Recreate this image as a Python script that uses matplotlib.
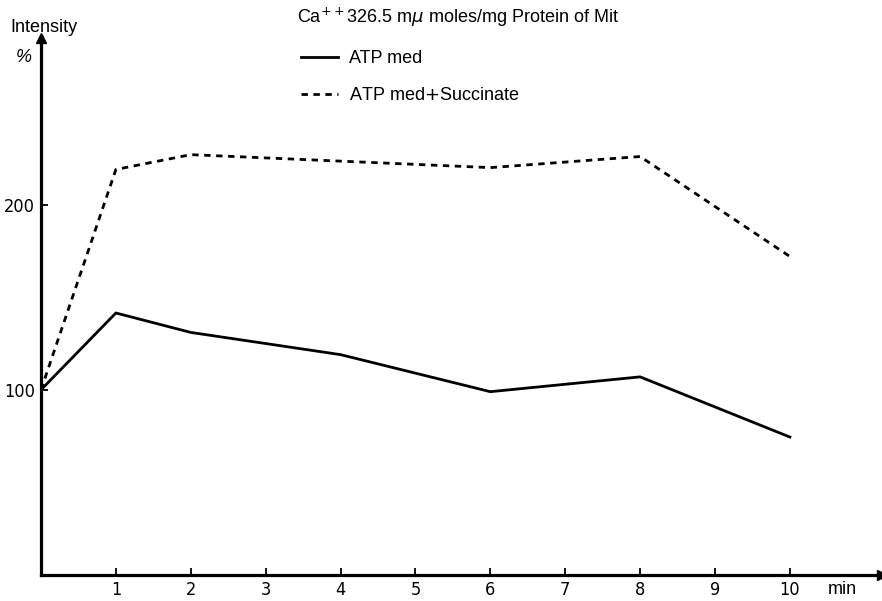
import numpy as np
import matplotlib.pyplot as plt

# valori (min, intensita %)
t_atp = [0, 1, 2, 4, 6, 8, 10]
i_atp = [100, 141.5, 131, 119, 99, 107, 74.5]

t_succ = [0, 1, 2, 6, 8, 10]
i_succ = [100, 219, 227, 220, 226, 172]

x_ticks = [1, 2, 3, 4, 5, 6, 7, 8, 9, 10]
y_ticks = [100, 200]

plt.rcParams['font.family'] = ['Liberation Sans', 'DejaVu Sans']

fig = plt.figure(figsize=(8.82, 6.01), dpi=100)
ax = fig.add_axes([41 / 882, 26 / 601, 841 / 882, 537 / 601])

ax.plot(t_atp, i_atp, '-', color='black', lw=2.0, label='ATP med')
ax.plot(t_succ, i_succ, '--', color='black', lw=2.0, dashes=(2.3, 2.0),
        label='ATP med$+$Succinate')

ax.set_xlim(0, 11.23)
ax.set_ylim(0, 290)
ax.set_xticks(x_ticks)
ax.set_yticks(y_ticks)
ax.tick_params(direction='in', length=5, width=1.3, labelsize=13, pad=4.5)
for lab in ax.get_xticklabels() + ax.get_yticklabels():
    lab.set_family('DejaVu Sans')
    lab.set_stretch('condensed')

for s in ['top', 'right']:
    ax.spines[s].set_visible(False)
for s in ['left', 'bottom']:
    ax.spines[s].set_linewidth(2.3)

# frecce sugli assi
ax.plot(0, 1, '^', color='black', ms=7, transform=ax.get_xaxis_transform(), clip_on=False)
ax.plot(1, 0, '>', color='black', ms=7, transform=ax.get_yaxis_transform(), clip_on=False)

fig.text(10 / 882, 1 - 27 / 601, 'Intensity', fontsize=13, va='center')
fig.text(16 / 882, 1 - 58 / 601, '%', fontsize=13, va='center', style='italic')
fig.text(828 / 882, 1 - 590 / 601, 'min', fontsize=13, va='center')

fig.text(458 / 882, 1 - 17 / 601,
         r'Ca$^{++}$326.5 m$\mu$ moles/mg Protein of Mit',
         fontsize=13, ha='center', va='center')

ax.legend(loc='upper left', bbox_to_anchor=(292 / 882, 1 - 41 / 601),
          bbox_transform=fig.transFigure, frameon=False, fontsize=13,
          handlelength=2.05, handletextpad=0.6, labelspacing=1.1, borderpad=0)

plt.savefig('out.png', dpi=100)
